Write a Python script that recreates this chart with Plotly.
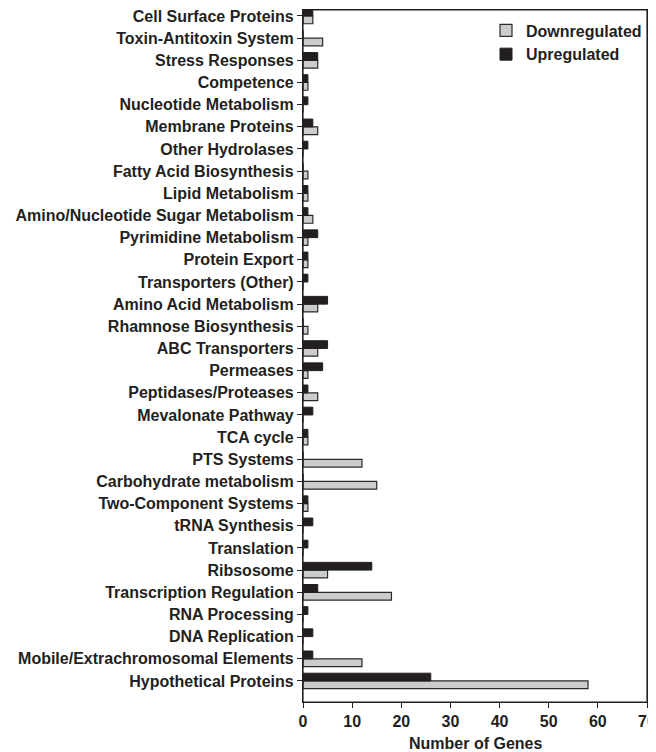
import plotly.graph_objects as go

# categories listed bottom -> top
categories = [
    "Hypothetical Proteins", "Mobile/Extrachromosomal Elements", "DNA Replication",
    "RNA Processing", "Transcription Regulation", "Ribsosome", "Translation",
    "tRNA Synthesis", "Two-Component Systems", "Carbohydrate metabolism",
    "PTS Systems", "TCA cycle", "Mevalonate Pathway", "Peptidases/Proteases",
    "Permeases", "ABC Transporters", "Rhamnose Biosynthesis", "Amino Acid Metabolism",
    "Transporters (Other)", "Protein Export", "Pyrimidine Metabolism",
    "Amino/Nucleotide Sugar Metabolism", "Lipid Metabolism", "Fatty Acid Biosynthesis",
    "Other Hydrolases", "Membrane Proteins", "Nucleotide Metabolism", "Competence",
    "Stress Responses", "Toxin-Antitoxin System", "Cell Surface Proteins",
]
downregulated = [58, 12, 0, 0, 18, 5, 0, 0, 1, 15, 12, 1, 0, 3, 1, 3, 1, 3, 0, 1, 1, 2, 1, 1, 0, 3, 0, 1, 3, 4, 2]
upregulated = [26, 2, 2, 1, 3, 14, 1, 2, 1, 0, 0, 1, 2, 1, 4, 5, 0, 5, 1, 1, 3, 1, 1, 0, 1, 2, 1, 1, 3, 0, 2]
x_ticks = [0, 10, 20, 30, 40, 50, 60, 70]

FONT = "Liberation Sans, Arial, sans-serif"
INK = "#231f20"

fig = go.Figure()
fig.add_trace(go.Bar(
    y=categories, x=downregulated, orientation="h", name="<b>Downregulated</b>",
    marker=dict(color="#cccccc", line=dict(color="#2a2a2a", width=1.2)),
))
fig.add_trace(go.Bar(
    y=categories, x=upregulated, orientation="h", name="<b>Upregulated</b>",
    marker=dict(color=INK, line=dict(color=INK, width=1)),
))

# page body adds an 8px offset
fig.update_layout(
    width=648, height=744,
    margin=dict(l=295, r=9, t=2, b=50),
    barmode="group", bargap=0.3, bargroupgap=0,
    plot_bgcolor="white", paper_bgcolor="white",
    font=dict(family=FONT, size=16, color=INK),
    legend=dict(x=1.0, y=0.995, xanchor="right", yanchor="top",
                bgcolor="rgba(0,0,0,0)", font=dict(size=16, family=FONT),
                tracegroupgap=0, itemwidth=30),
    showlegend=True,
    shapes=[dict(type="rect", xref="paper", yref="paper", x0=0, x1=1, y0=0, y1=1,
                 line=dict(color=INK, width=1.2), fillcolor="rgba(0,0,0,0)", layer="above")],
    annotations=[dict(text="<b>Number of Genes</b>", xref="paper", yref="paper",
                      x=0.5, y=0, xanchor="center", yanchor="middle", yshift=-41,
                      showarrow=False, font=dict(size=16, family=FONT, color=INK))],
)
fig.update_xaxes(
    range=[0, 70], tickvals=x_ticks, ticktext=[f"<b>{v}</b>" for v in x_ticks],
    showgrid=False, zeroline=False, showline=True, linecolor=INK, linewidth=1.2,
    mirror=True, ticks="outside", ticklen=5, tickcolor=INK, automargin=False,
    ticklabeloverflow="allow",
    tickfont=dict(size=16, family=FONT),
)
fig.update_yaxes(
    type="category", categoryorder="array", categoryarray=categories,
    range=[-0.95, 30.27],
    tickvals=categories, ticktext=[f"<b>{c}</b>" for c in categories],
    showgrid=False, zeroline=False, showline=True, linecolor=INK, linewidth=1.2,
    mirror=True, ticks="outside", ticklen=5, tickcolor=INK, automargin=False,
    tickfont=dict(size=16, family=FONT),
)

fig.write_html("out.html")
